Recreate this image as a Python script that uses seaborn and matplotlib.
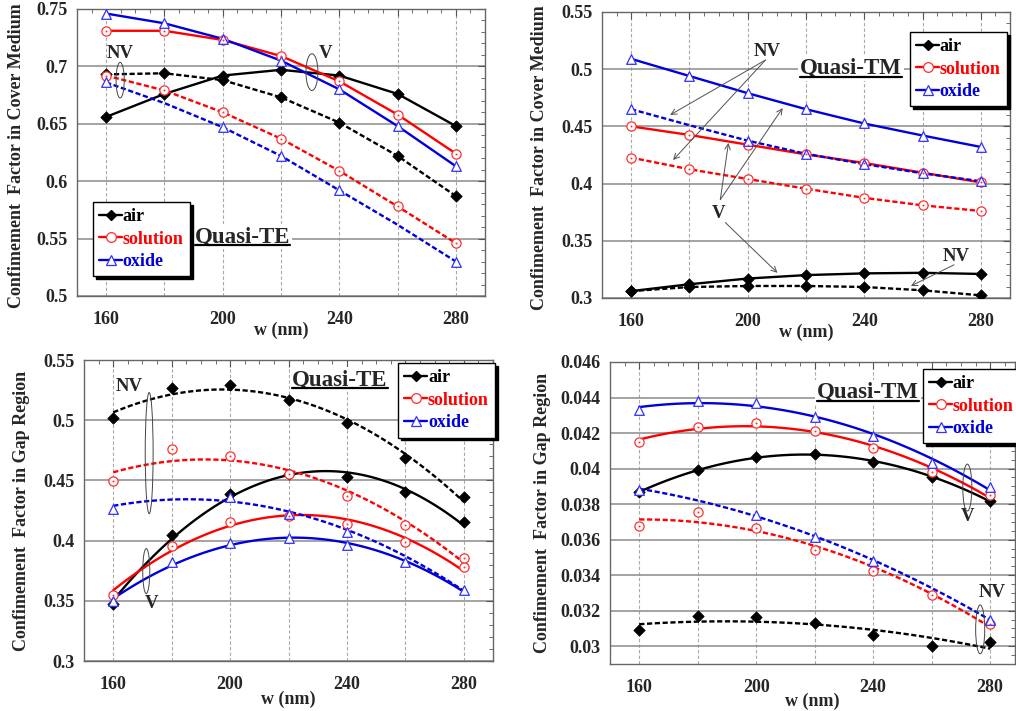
import numpy as np
import pandas as pd
import matplotlib
matplotlib.use("Agg")
import matplotlib.pyplot as plt
import seaborn as sns
from matplotlib.ticker import MultipleLocator, FuncFormatter
from matplotlib.patches import Ellipse
from matplotlib.lines import Line2D

# ---------------- data ----------------
w = [160, 180, 200, 220, 240, 260, 280]
media = ["air", "solution", "oxide"]

# Cover medium, quasi-TE
cte_air_v = [0.656, 0.676, 0.692, 0.697, 0.692, 0.676, 0.648]
cte_air_nv = [0.693, 0.694, 0.688, 0.673, 0.651, 0.622, 0.587]
cte_sol_v = [0.731, 0.731, 0.723, 0.709, 0.687, 0.658, 0.624]
cte_sol_nv = [0.692, 0.679, 0.660, 0.637, 0.609, 0.578, 0.546]
cte_ox_v = [0.746, 0.7375, 0.724, 0.705, 0.680, 0.648, 0.613]
cte_ox_nv = [0.686, 0.668, 0.647, 0.622, 0.592, 0.562, 0.530]
cte_ox_nv_shown = [1, 0, 1, 1, 1, 0, 1]

# Cover medium, quasi-TM
ctm_air_v = [0.306, 0.312, 0.317, 0.320, 0.3215, 0.322, 0.321]
ctm_air_nv = [0.306, 0.3096, 0.3105, 0.3105, 0.3096, 0.3067, 0.3023]
ctm_sol_v = [0.450, 0.4425, 0.434, 0.4255, 0.418, 0.4095, 0.401]
ctm_sol_nv = [0.4227, 0.4125, 0.404, 0.3955, 0.3875, 0.381, 0.376]
ctm_ox_v = [0.509, 0.494, 0.479, 0.465, 0.4525, 0.442, 0.432]
ctm_ox_nv = [0.465, 0.451, 0.4375, 0.426, 0.417, 0.409, 0.402]
ctm_ox_nv_shown = [1, 0, 1, 1, 1, 1, 1]

# Gap region, quasi-TE
gte_air_v = [0.347, 0.405, 0.439, 0.455, 0.4525, 0.440, 0.4157]
gte_air_nv = [0.502, 0.5266, 0.5296, 0.5168, 0.4975, 0.4683, 0.436]
gte_sol_v = [0.355, 0.3956, 0.4157, 0.4208, 0.4138, 0.3992, 0.378]
gte_sol_nv = [0.4495, 0.476, 0.4705, 0.455, 0.4373, 0.4128, 0.3859]
gte_ox_v = [0.3497, 0.382, 0.3978, 0.402, 0.396, 0.382, 0.359]
gte_ox_nv = [0.4262, 0.437, 0.4359, 0.422, 0.4069, 0.386, 0.360]
gte_ox_nv_shown = [1, 0, 1, 1, 1, 0, 0]

# Gap region, quasi-TM
gtm_air_v = [0.03866, 0.03992, 0.04064, 0.04083, 0.04036, 0.03951, 0.03819]
gtm_air_nv = [0.03092, 0.03171, 0.03163, 0.03133, 0.03062, 0.03004, 0.03023]
gtm_sol_v = [0.04151, 0.04232, 0.04254, 0.04211, 0.04113, 0.03983, 0.03852]
gtm_sol_nv = [0.03675, 0.03754, 0.03666, 0.03544, 0.03422, 0.03287, 0.03126]
gtm_ox_v = [0.04331, 0.04381, 0.04368, 0.04293, 0.04185, 0.0403, 0.03898]
gtm_ox_nv = [0.03879, 0.0383, 0.03738, 0.03613, 0.03478, 0.0333, 0.0315]
gtm_ox_nv_shown = [1, 0, 1, 1, 1, 0, 1]

# ---------------- style ----------------
sns.set_style("white")
plt.rcParams["font.family"] = ["Liberation Serif", "DejaVu Serif"]
plt.rcParams["font.weight"] = "bold"
plt.rcParams["axes.labelweight"] = "bold"

colors = {"air": "#000000", "solution": "#ff0000", "oxide": "#0000dd"}
FS = 13


def build(vals, shown=None):
    rows = []
    for med, (vv, nv) in zip(media, vals):
        for mode, arr in (("V", vv), ("NV", nv)):
            for i, (x, y) in enumerate(zip(w, arr)):
                s = 1
                if shown is not None and med == "oxide" and mode == "NV":
                    s = shown[i]
                rows.append(dict(w=x, value=y, medium=med, mode=mode, shown=bool(s)))
    return pd.DataFrame(rows)


def fitted(df):
    rows = []
    xs = np.linspace(160, 280, 121)
    for (med, mode), g in df.groupby(["medium", "mode"]):
        c = np.polyfit(g["w"], g["value"], 2)
        for x, y in zip(xs, np.polyval(c, xs)):
            rows.append(dict(w=x, value=y, medium=med, mode=mode))
    return pd.DataFrame(rows)


def draw_markers(ax, df):
    d = df[df["shown"]]
    for med in media:
        g = d[d["medium"] == med]
        col = colors[med]
        if med == "air":
            sns.scatterplot(x=g["w"], y=g["value"], marker="D", s=34,
                            facecolor=col, edgecolor=col, linewidth=0.5,
                            ax=ax, zorder=4, legend=False)
        elif med == "solution":
            sns.scatterplot(x=g["w"], y=g["value"], marker="o", s=44,
                            facecolor="white", edgecolor="#ff3030", linewidth=0.9,
                            ax=ax, zorder=4, legend=False)
            sns.scatterplot(x=g["w"], y=g["value"], marker="o", s=2,
                            facecolor="#ff3030", edgecolor="#ff3030", linewidth=0,
                            ax=ax, zorder=5, legend=False)
        else:
            sns.scatterplot(x=g["w"], y=g["value"], marker="^", s=48,
                            facecolor="white", edgecolor="#3030ff", linewidth=0.9,
                            ax=ax, zorder=4, legend=False)


def draw_lines(ax, df):
    sns.lineplot(data=df, x="w", y="value", hue="medium", style="mode",
                 palette=colors, hue_order=media, style_order=["V", "NV"],
                 dashes={"V": "", "NV": (2.2, 1.1)}, lw=1.7, sort=True,
                 estimator=None, legend=False, ax=ax, zorder=3)


def style_axes(ax, ylim, ystep, yminor, ylabel, xlim=(150, 290)):
    ax.set_xlim(*xlim)
    ax.set_ylim(*ylim)
    ax.xaxis.set_major_locator(MultipleLocator(20))
    ax.xaxis.set_minor_locator(MultipleLocator(5))
    ax.xaxis.set_major_formatter(FuncFormatter(
        lambda v, p: f"{int(round(v))}" if int(round(v)) % 40 == 0 else ""))
    ax.yaxis.set_major_locator(MultipleLocator(ystep))
    ax.yaxis.set_minor_locator(MultipleLocator(yminor))
    ax.yaxis.set_major_formatter(FuncFormatter(
        lambda v, p: (f"{v:.4f}".rstrip("0").rstrip("."))))
    ax.tick_params(which="both", direction="in", top=True, right=True,
                   color="#555555", labelsize=FS)
    ax.tick_params(which="major", length=5, width=0.8)
    ax.tick_params(which="minor", length=3, width=0.6)
    ax.tick_params(axis="x", pad=11)
    ax.tick_params(axis="y", pad=7)
    for lab in ax.get_xticklabels() + ax.get_yticklabels():
        lab.set_fontweight("bold")
    ax.grid(False)
    ax.set_axisbelow(True)
    for v in range(160, 281, 20):
        ax.axvline(v, color="#a8a8a8", lw=0.8, ls=(0, (3, 2)), zorder=0.5)
    ax.yaxis.grid(True, which="major", color="#8a8a8a", lw=1.1, ls="-")
    for sp in ax.spines.values():
        sp.set_color("#666666")
        sp.set_linewidth(1.0)
    ax.set_xlabel("w (nm)", fontsize=FS, fontweight="bold")
    ax.set_ylabel(ylabel, fontsize=FS, fontweight="bold")


def add_legend(ax, anchor):
    handles = []
    for med in media:
        col = colors[med]
        if med == "air":
            h = Line2D([], [], color=col, lw=1.7, marker="D", ms=5.5,
                       mfc=col, mec=col)
        elif med == "solution":
            h = Line2D([], [], color=col, lw=1.7, marker="o", ms=7,
                       mfc="white", mec="#ff3030", mew=0.9)
        else:
            h = Line2D([], [], color=col, lw=1.7, marker="^", ms=7,
                       mfc="white", mec="#3030ff", mew=0.9)
        handles.append(h)
    leg = ax.legend(handles=handles, labels=media, loc="upper left",
                    bbox_to_anchor=anchor, borderaxespad=0, fancybox=False,
                    framealpha=1, edgecolor="black", handlelength=1.25,
                    handletextpad=0.05, labelspacing=0.3, borderpad=0.35,
                    prop=dict(family="Liberation Serif", weight="bold", size=FS),
                    shadow={"color": "black", "alpha": 1.0})
    leg.get_frame().set_linewidth(1.0)
    leg.set_zorder(10)
    for t, med in zip(leg.get_texts(), media):
        t.set_color(colors[med])
    return leg


def label(ax, x, y, s, size=13.5):
    ax.text(x, y, s, fontsize=size, fontweight="bold", ha="center", va="center",
            zorder=6)


def ell(ax, x, y, wd, ht):
    ax.add_patch(Ellipse((x, y), wd, ht, fill=False, edgecolor="#444444",
                         lw=0.7, zorder=6))


def title(ax, x, y, s):
    return ax.text(x, y, s, transform=ax.transAxes, fontsize=16.5,
                   fontweight="bold", ha="center", va="center", zorder=7,
                   bbox=dict(facecolor="white", edgecolor="none", pad=1.5))


fig = plt.figure(figsize=(10.16, 7.11), dpi=100)
ax1 = fig.add_axes([0.0758, 0.5837, 0.4016, 0.4037])
ax2 = fig.add_axes([0.5925, 0.5809, 0.4016, 0.4023])
ax3 = fig.add_axes([0.0827, 0.0703, 0.4026, 0.4233])
ax4 = fig.add_axes([0.6004, 0.0661, 0.3986, 0.4248])

titles = []

# ---- panel 1: cover TE ----
df1 = build([(cte_air_v, cte_air_nv), (cte_sol_v, cte_sol_nv), (cte_ox_v, cte_ox_nv)],
            cte_ox_nv_shown)
style_axes(ax1, (0.5, 0.75), 0.05, 0.01, "Confimement  Factor in Cover Medium")
draw_lines(ax1, df1)
draw_markers(ax1, df1)
add_legend(ax1, (0.039, 0.328))
titles.append(title(ax1, 0.405, 0.206, "Quasi-TE"))
label(ax1, 164.8, 0.711, "NV")
ell(ax1, 164.8, 0.688, 2.8, 0.031)
label(ax1, 235.4, 0.711, "V")
ell(ax1, 230.6, 0.695, 4.1, 0.032)

# ---- panel 2: cover TM ----
df2 = build([(ctm_air_v, ctm_air_nv), (ctm_sol_v, ctm_sol_nv), (ctm_ox_v, ctm_ox_nv)],
            ctm_ox_nv_shown)
style_axes(ax2, (0.3, 0.55), 0.05, 0.01, "Confimement  Factor in Cover Medium")
draw_lines(ax2, df2)
draw_markers(ax2, df2)
add_legend(ax2, (0.755, 0.930))
titles.append(title(ax2, 0.61, 0.804, "Quasi-TM"))
label(ax2, 206.8, 0.515, "NV")
label(ax2, 189.9, 0.374, "V")
label(ax2, 271.5, 0.336, "NV")
arr = dict(arrowstyle="->", color="#505050", lw=0.7, shrinkA=0, shrinkB=0)
for (x0, y0), (x1, y1) in [((206.1, 0.508), (173.4, 0.460)),
                           ((206.1, 0.508), (174.4, 0.4206)),
                           ((190.6, 0.386), (193.4, 0.4355)),
                           ((190.6, 0.386), (212.0, 0.466)),
                           ((192.3, 0.366), (210.2, 0.322)),
                           ((270.8, 0.329), (256.0, 0.3105))]:
    ax2.annotate("", xy=(x1, y1), xytext=(x0, y0), arrowprops=arr, zorder=6)

# ---- panel 3: gap TE ----
df3 = build([(gte_air_v, gte_air_nv), (gte_sol_v, gte_sol_nv), (gte_ox_v, gte_ox_nv)],
            gte_ox_nv_shown)
style_axes(ax3, (0.3, 0.55), 0.05, 0.01, "Confimement  Factor in Gap Region")
draw_lines(ax3, fitted(df3))
draw_markers(ax3, df3)
add_legend(ax3, (0.768, 0.990))
titles.append(title(ax3, 0.626, 0.934, "Quasi-TE"))
label(ax3, 165.5, 0.528, "NV")
ell(ax3, 172.3, 0.4727, 2.7, 0.1006)
label(ax3, 173.0, 0.348, "V")
ell(ax3, 171.3, 0.3747, 2.4, 0.0374)

# ---- panel 4: gap TM ----
df4 = build([(gtm_air_v, gtm_air_nv), (gtm_sol_v, gtm_sol_nv), (gtm_ox_v, gtm_ox_nv)],
            gtm_ox_nv_shown)
style_axes(ax4, (0.029, 0.046), 0.002, 0.0005, "Confimement  Factor in Gap Region",
           xlim=(150, 288.5))
draw_lines(ax4, fitted(df4))
draw_markers(ax4, df4)
add_legend(ax4, (0.773, 0.977))
titles.append(title(ax4, 0.637, 0.90, "Quasi-TM"))
label(ax4, 272.2, 0.0373, "V")
ell(ax4, 272.2, 0.03893, 3.1, 0.00264)
label(ax4, 280.7, 0.03303, "NV")
ell(ax4, 276.6, 0.03095, 3.1, 0.00275)

# axis label positions
ax1.yaxis.set_label_coords(-0.127, 0.49)
ax2.yaxis.set_label_coords(-0.132, 0.49)
ax3.yaxis.set_label_coords(-0.132, 0.5)
ax4.yaxis.set_label_coords(-0.146, 0.5)
ax1.xaxis.set_label_coords(0.5, -0.09)
ax2.xaxis.set_label_coords(0.5, -0.09)
ax3.xaxis.set_label_coords(0.5, -0.0997)
ax4.xaxis.set_label_coords(0.5, -0.096)

# underline titles
fig.canvas.draw()
r = fig.canvas.get_renderer()
inv = fig.transFigure.inverted()
for t in titles:
    bb = t.get_window_extent(r)
    (x0, y0), (x1, _) = inv.transform([[bb.x0, bb.y0 + 2], [bb.x1, bb.y0 + 2]])
    fig.add_artist(Line2D([x0, x1], [y0, y0], color="black", lw=1.6,
                          transform=fig.transFigure, zorder=20))

fig.savefig("out.png", dpi=100)
